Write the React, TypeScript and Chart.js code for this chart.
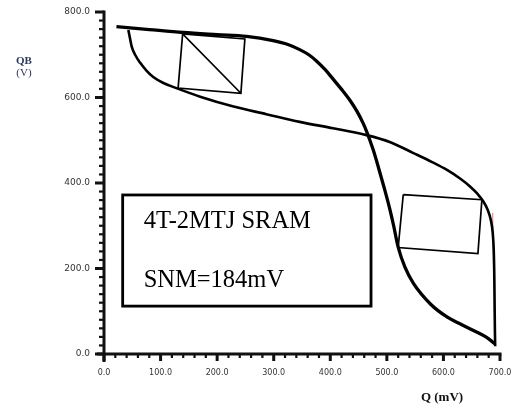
import React, { useEffect, useRef } from 'react';
import { Chart, registerables } from 'chart.js';

Chart.register(...registerables);

// Axis ticks
const xTickValues = [0, 100, 200, 300, 400, 500, 600, 700];
const yTickValues = [0, 200, 400, 600, 800];
const xTickLabels = ['0.0', '100.0', '200.0', '300.0', '400.0', '500.0', '600.0', '700.0'];
const yTickLabels = ['0.0', '200.0', '400.0', '600.0', '800.0'];
const minorStep = 20;

// Curve A (thick): QB vs Q
const curveAQ = [22, 80, 140, 200, 252, 299, 325, 346, 362, 376, 391, 405, 420, 435, 447, 458, 465, 470, 476, 485, 495, 505, 512, 520, 532, 547, 577, 607, 630, 653, 675, 691];
const curveAQB = [766, 759, 752, 747, 743, 733, 724, 712, 700, 685, 665, 643, 619, 593, 568, 540, 518, 500, 477, 437, 390, 340, 300, 250, 203, 165, 117, 86, 70, 55, 40, 24];

// Curve B (mirrored characteristic)
const curveBQ = [43, 46, 49, 55, 64, 75, 87, 105, 128, 170, 229, 287, 346, 405, 464, 505, 547, 580, 607, 630, 647, 660, 670, 678, 684, 687, 689, 690, 690.5, 691, 691.5];
const curveBQB = [758, 738, 719, 700, 681, 663, 648, 634, 622, 602, 579, 561, 543, 528, 512, 496, 470, 449, 430, 410, 392, 375, 358, 338, 312, 285, 240, 175, 110, 54, 18];

// Small red trace
const redQ = [687, 689];
const redQB = [330, 172];

// SNM squares
const square1Q = [139, 249, 242, 131, 139, 242];
const square1QB = [749, 737, 610, 622, 749, 610];
const square2Q = [529, 668, 661, 520, 529];
const square2QB = [373, 361, 235, 249, 373];

// Annotation box (data units)
const boxQ = [33, 472];
const boxQB = [372, 112];
const boxLines = ['4T-2MTJ SRAM', 'SNM=184mV'];

const pts = (xs: number[], ys: number[]) => xs.map((x, i) => ({ x, y: ys[i] }));

const axesPlugin = {
  id: 'customAxes',
  beforeDatasetsDraw(chart: any) {
    const { ctx, scales } = chart;
    const xs = scales.x;
    const ys = scales.y;
    const x0 = xs.getPixelForValue(0);
    const y0 = ys.getPixelForValue(0);
    const xEnd = xs.getPixelForValue(700);
    const yTop = ys.getPixelForValue(800);
    ctx.save();
    ctx.strokeStyle = '#111';
    ctx.lineCap = 'butt';
    ctx.lineWidth = 3;
    ctx.beginPath();
    ctx.moveTo(x0, yTop - 1.5);
    ctx.lineTo(x0, y0 + 8);
    ctx.stroke();
    ctx.beginPath();
    ctx.moveTo(x0 - 7, y0);
    ctx.lineTo(xEnd + 1.5, y0);
    ctx.stroke();
    for (let v = 0; v <= 800; v += minorStep) {
      const major = v % 200 === 0;
      const py = ys.getPixelForValue(v);
      ctx.lineWidth = major ? 3 : 2.2;
      ctx.beginPath();
      ctx.moveTo(x0, py);
      ctx.lineTo(x0 - (major ? 9 : 5), py);
      ctx.stroke();
    }
    for (let v = 0; v <= 700; v += minorStep) {
      const major = v % 100 === 0;
      const px = xs.getPixelForValue(v);
      ctx.lineWidth = major ? 3 : 2.2;
      ctx.beginPath();
      ctx.moveTo(px, y0);
      ctx.lineTo(px, y0 + (major ? 7 : 4));
      ctx.stroke();
    }
    ctx.fillStyle = '#333';
    ctx.font = '9px "DejaVu Sans"';
    ctx.textAlign = 'right';
    ctx.textBaseline = 'middle';
    yTickValues.forEach((v, i) => {
      ctx.fillText(yTickLabels[i], x0 - 14, ys.getPixelForValue(v));
    });
    ctx.font = '8px "DejaVu Sans"';
    ctx.textAlign = 'center';
    xTickValues.forEach((v, i) => {
      ctx.fillText(xTickLabels[i], xs.getPixelForValue(v), y0 + 19);
    });
    ctx.fillStyle = '#2b3560';
    ctx.font = 'bold 11px "Liberation Serif"';
    ctx.textAlign = 'center';
    ctx.fillText('QB', 24, 61);
    ctx.font = '11px "Liberation Serif"';
    ctx.fillText('(V)', 24, 73);
    ctx.fillStyle = '#111';
    ctx.font = 'bold 13px "Liberation Serif"';
    ctx.fillText('Q (mV)', 442, 398);
    ctx.restore();
  },
  afterDatasetsDraw(chart: any) {
    const { ctx, scales } = chart;
    const xs = scales.x;
    const ys = scales.y;
    const l = xs.getPixelForValue(boxQ[0]);
    const r = xs.getPixelForValue(boxQ[1]);
    const t = ys.getPixelForValue(boxQB[0]);
    const b = ys.getPixelForValue(boxQB[1]);
    ctx.save();
    ctx.strokeStyle = '#000';
    ctx.lineWidth = 2.8;
    ctx.strokeRect(l, t, r - l, b - t);
    ctx.fillStyle = '#000';
    ctx.font = '24.5px "Liberation Serif"';
    ctx.textAlign = 'left';
    ctx.textBaseline = 'alphabetic';
    ctx.fillText(boxLines[0], l + 21, t + 33);
    ctx.fillText(boxLines[1], l + 21, t + 92);
    ctx.restore();
  },
};

export default function App() {
  const ref = useRef<HTMLCanvasElement | null>(null);
  useEffect(() => {
    document.body.style.margin = '0';
    const canvas = ref.current;
    if (!canvas) return;
    const chart = new Chart(canvas, {
      type: 'line',
      data: {
        datasets: [
          {
            data: pts(curveAQ, curveAQB),
            borderColor: '#000',
            borderWidth: 3.3,
            cubicInterpolationMode: 'monotone',
            pointRadius: 0,
            fill: false,
          },
          {
            data: pts(curveBQ, curveBQB),
            borderColor: '#000',
            borderWidth: 2.6,
            cubicInterpolationMode: 'monotone',
            pointRadius: 0,
            fill: false,
          },
          {
            data: pts(redQ, redQB),
            borderColor: 'rgba(220,60,60,0.7)',
            borderWidth: 1,
            tension: 0,
            pointRadius: 0,
            fill: false,
          },
          {
            data: pts(square1Q, square1QB),
            borderColor: '#000',
            borderWidth: 1.7,
            tension: 0,
            pointRadius: 0,
            fill: false,
          },
          {
            data: pts(square2Q, square2QB),
            borderColor: '#000',
            borderWidth: 1.7,
            tension: 0,
            pointRadius: 0,
            fill: false,
          },
        ],
      },
      options: {
        responsive: false,
        animation: false,
        parsing: false as any,
        layout: { padding: { left: 104, right: 15, top: 12, bottom: 55 } },
        scales: {
          x: { type: 'linear', min: 0, max: 700, display: false },
          y: { type: 'linear', min: 0, max: 800, display: false },
        },
        plugins: {
          legend: { display: false },
          tooltip: { enabled: false },
        },
        datasets: { line: { clip: false as any } },
      },
      plugins: [axesPlugin],
    });
    return () => chart.destroy();
  }, []);
  return (
    <div style={{ width: 515, height: 409, background: '#fff' }}>
      <canvas ref={ref} width={515} height={409} />
    </div>
  );
}
